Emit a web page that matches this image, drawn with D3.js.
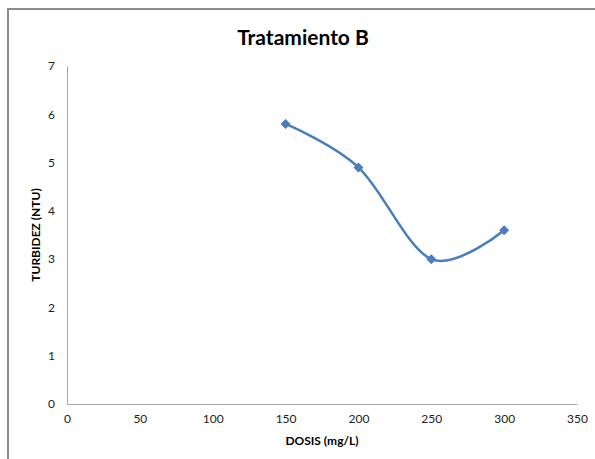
<!DOCTYPE html>
<html>
<head>
<meta charset="utf-8">
<title>Tratamiento B</title>
<script src="https://d3js.org/d3.v7.min.js"></script>
<style>
  body { margin: 0; background: #fff; }
  text { font-family: Lato, "Open Sans", sans-serif; fill: #000; }
</style>
</head>
<body>
<svg width="595" height="459"></svg>
<script>
const dosis = [150, 200, 250, 300];
const turbidez = [5.8, 4.9, 3.0, 3.6];
const xTicks = [0, 50, 100, 150, 200, 250, 300, 350];
const yTicks = [0, 1, 2, 3, 4, 5, 6, 7];

const svg = d3.select("svg");
const blue = "#4a7ebb";

// outer chart border (right/bottom run off the picture)
svg.append("rect").attr("x", 8).attr("y", 9).attr("width", 620).attr("height", 480)
  .attr("fill", "none").attr("stroke", "#8c8c8c").attr("stroke-width", 2);

const x = d3.scaleLinear().domain([0, 350]).range([67, 577]);
const y = d3.scaleLinear().domain([0, 7]).range([404, 66]);

const xAxis = svg.append("g").attr("transform", "translate(0,404)")
  .call(d3.axisBottom(x).tickValues(xTicks).tickFormat(d3.format("d")).tickSize(0).tickPadding(10));
const yAxis = svg.append("g").attr("transform", "translate(67,0)")
  .call(d3.axisLeft(y).tickValues(yTicks).tickFormat(d3.format("d")).tickSize(0).tickPadding(12));
[xAxis, yAxis].forEach(a => {
  a.select(".domain").attr("stroke", "#a6a6a6").attr("stroke-width", 1);
  a.selectAll("text").style("font-size", "12px").style("fill", "#222");
});

const pts = dosis.map((d, i) => [d, turbidez[i]]);
svg.append("path").datum(pts)
  .attr("fill", "none").attr("stroke", blue).attr("stroke-width", 2.5)
  .attr("d", d3.line().x(d => x(d[0])).y(d => y(d[1])).curve(d3.curveCardinal.tension(0)));

svg.selectAll(".pt").data(pts).enter().append("path")
  .attr("class", "pt")
  .attr("d", d3.symbol().type(d3.symbolSquare).size(50))
  .attr("fill", blue)
  .attr("transform", d => "translate(" + x(d[0]) + "," + y(d[1]) + ") rotate(45)");

svg.append("text").attr("x", 303).attr("y", 45).attr("text-anchor", "middle")
  .style("font-size", "21px").style("font-weight", "bold").text("Tratamiento B");
svg.append("text").attr("x", 322).attr("y", 445).attr("text-anchor", "middle")
  .style("font-size", "12px").style("font-weight", "bold").text("DOSIS (mg/L)");
svg.append("text").attr("transform", "translate(40,235) rotate(-90)").attr("text-anchor", "middle")
  .style("font-size", "12px").style("font-weight", "bold").text("TURBIDEZ (NTU)");
</script>
</body>
</html>
